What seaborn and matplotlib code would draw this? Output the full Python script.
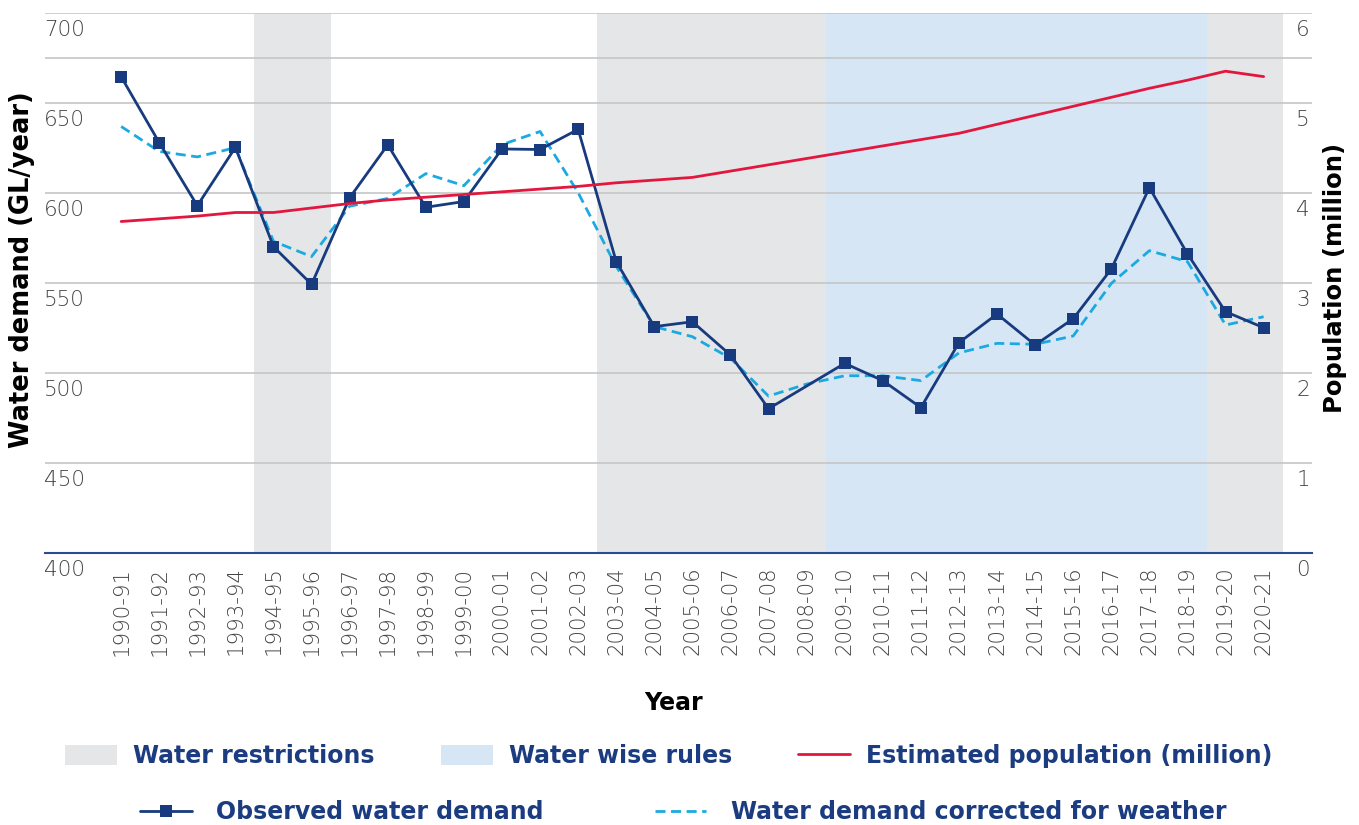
import numpy as np
import pandas as pd
import matplotlib
matplotlib.use("Agg")
import matplotlib.pyplot as plt
import matplotlib.transforms as mtransforms
from matplotlib.patches import Patch
from matplotlib.lines import Line2D
import seaborn as sns

# ---------------- data ----------------
years = ["1990-91", "1991-92", "1992-93", "1993-94", "1994-95", "1995-96", "1996-97",
         "1997-98", "1998-99", "1999-00", "2000-01", "2001-02", "2002-03", "2003-04",
         "2004-05", "2005-06", "2006-07", "2007-08", "2008-09", "2009-10", "2010-11",
         "2011-12", "2012-13", "2013-14", "2014-15", "2015-16", "2016-17", "2017-18",
         "2018-19", "2019-20", "2020-21"]

observed = [664.4, 627.8, 592.8, 625.2, 570.0, 549.1, 597.2, 626.6, 591.9, 595.1,
            624.3, 624.0, 635.2, 561.7, 525.6, 528.3, 509.8, 480.0, None, 505.2,
            495.6, 480.6, 516.7, 532.6, 515.4, 530.0, 557.6, 602.8, 566.0, 533.9, 525.0]

corrected = [636.8, 622.9, 619.9, 625.0, 573.0, 564.5, 592.5, 596.8, 610.6, 603.9,
             626.7, 634.0, 600.0, 559.0, 525.6, 520.0, 508.0, 487.0, 493.7, 498.3,
             498.3, 495.6, 511.0, 516.3, 515.8, 520.4, 549.6, 567.8, 561.7, 526.5, 531.1]

population = [3.68, 3.71, 3.74, 3.78, 3.78, 3.83, 3.88, 3.92, 3.95, 3.98, 4.01, 4.04,
              4.07, 4.11, 4.14, 4.17, 4.24, 4.31, 4.38, 4.45, 4.52, 4.59, 4.66, 4.76,
              4.86, 4.96, 5.06, 5.16, 5.25, 5.35, 5.29]

restriction_periods = [("1994-95", "1995-96"), ("2003-04", "2008-09"), ("2019-20", "2020-21")]
waterwise_periods = [("2009-10", "2018-19")]

left_ticks = [400, 450, 500, 550, 600, 650, 700]
right_ticks = [0, 1, 2, 3, 4, 5, 6]

# ---------------- style ----------------
sns.set_theme(style="white")
plt.rcParams["font.family"] = ["DejaVu Sans"]

NAVY = "#173B7E"
LIGHTBLUE = "#1BA9E1"
RED = "#E3173E"
GREYSHADE = "#E5E6E8"
BLUESHADE = "#D6E6F5"
GRID = "#C6C6C6"
TICKCOL = "#444444"
LEGCOL = "#1B3C80"

fig = plt.figure(figsize=(13.59, 8.25), dpi=100)
ax = fig.add_axes([45 / 1359, 1 - 552.7 / 825, (1312 - 45) / 1359, 540 / 825])

idx = np.arange(len(years))
df = pd.DataFrame({"pos": idx, "year": years, "observed": observed,
                   "corrected": corrected, "population": population})
pos_of = {y: i for i, y in enumerate(years)}

# shaded periods
for a, b in restriction_periods:
    ax.axvspan(pos_of[a] - 0.5, pos_of[b] + 0.5, color=GREYSHADE, lw=0, zorder=0)
for a, b in waterwise_periods:
    ax.axvspan(pos_of[a] - 0.5, pos_of[b] + 0.5, color=BLUESHADE, lw=0, zorder=0)

ax.set_xlim(-2.0, 31.27)
ax.set_ylim(400, 700)

# grid
ax.set_yticks(left_ticks)
ax.set_axisbelow(True)
ax.yaxis.grid(True, color=GRID, lw=1.2, zorder=0.5)
ax.xaxis.grid(False)
ax.axhline(675, color=GRID, lw=1.2, zorder=0.5)

# lines
obs_df = df.dropna(subset=["observed"])
sns.lineplot(data=obs_df, x="pos", y="observed", ax=ax, color=NAVY, lw=2.0,
             marker="s", markersize=8.5, markeredgewidth=0, zorder=4)
sns.lineplot(data=df, x="pos", y="corrected", ax=ax, color=LIGHTBLUE, lw=2.0,
             linestyle=(0, (3.6, 2.0)), zorder=3)

ax2 = ax.twinx()
ax2.set_ylim(0, 6)
ax2.set_xlim(-2.0, 31.27)
sns.lineplot(data=df, x="pos", y="population", ax=ax2, color=RED, lw=2.0, zorder=2)

# axes cosmetics
for s in ["top", "left", "right"]:
    ax.spines[s].set_visible(False)
    ax2.spines[s].set_visible(False)
ax2.spines["bottom"].set_visible(False)
ax.spines["bottom"].set_color("#2C4C92")
ax.spines["bottom"].set_linewidth(1.5)

ax.set_xticks(idx)
ax.set_xticklabels(years, rotation=90, fontsize=15.3, color=TICKCOL, fontweight="light")
ax.set_xticks(np.arange(-0.5, len(years), 1.0), minor=True)
ax.tick_params(axis="x", which="major", length=0, pad=10)
ax.tick_params(axis="x", which="minor", length=7, width=1.5, color="#2C4C92", direction="out")
ax.tick_params(axis="y", length=0, labelleft=False)
ax2.tick_params(axis="y", length=0, labelright=False)
ax2.set_yticks(right_ticks)
ax2.grid(False)

ax.set_xlabel("")
ax.set_ylabel("")
ax2.set_ylabel("")

# y tick labels placed below gridlines
off_l = mtransforms.ScaledTranslation(-1 / 100, -17 / 100, fig.dpi_scale_trans)
tl = mtransforms.blended_transform_factory(ax.transAxes, ax.transData) + off_l
for v in left_ticks:
    ax.text(0, v, f"{v}", transform=tl, ha="left", va="center", fontsize=15.5,
            color=TICKCOL, fontweight="light")
off_r = mtransforms.ScaledTranslation(-2 / 100, -17 / 100, fig.dpi_scale_trans)
tr = mtransforms.blended_transform_factory(ax2.transAxes, ax2.transData) + off_r
for v in right_ticks:
    ax2.text(1, v, f"{v}", transform=tr, ha="right", va="center", fontsize=15.5,
             color=TICKCOL, fontweight="light")

# axis titles
fig.text(22 / 1359, 1 - 270 / 825, "Water demand (GL/year)", rotation=90, ha="center",
         va="center", fontsize=18.5, fontweight="bold", color="black")
fig.text(1335 / 1359, 1 - 278 / 825, "Population (million)", rotation=90, ha="center",
         va="center", fontsize=17.5, fontweight="bold", color="black")
fig.text(674 / 1359, 1 - 703 / 825, "Year", ha="center", va="center", fontsize=17,
         fontweight="bold", color="black")

# legends
LEGSIZE = 17
h1 = [Patch(facecolor=GREYSHADE, edgecolor="none"),
      Patch(facecolor=BLUESHADE, edgecolor="none"),
      Line2D([], [], color=RED, lw=2.0)]
l1 = ["Water restrictions", "Water wise rules", "Estimated population (million)"]
leg1 = fig.legend(h1, l1, loc="center left", bbox_to_anchor=(65 / 1359, 1 - 756 / 825),
                  ncol=3, frameon=False, borderpad=0, borderaxespad=0,
                  handlelength=2.2, handleheight=0.95, handletextpad=0.68,
                  columnspacing=2.8, prop={"size": LEGSIZE, "weight": "bold"})
for t in leg1.get_texts():
    t.set_color(LEGCOL)

h2 = [Line2D([], [], color=NAVY, lw=2.0, marker="s", markersize=8.5, markeredgewidth=0),
      Line2D([], [], color=LIGHTBLUE, lw=2.0, linestyle=(0, (3.6, 2.0)))]
l2 = ["Observed water demand", "Water demand corrected for weather"]
leg2 = fig.legend(h2, l2, loc="center left", bbox_to_anchor=(140 / 1359, 1 - 812 / 825),
                  ncol=2, frameon=False, borderpad=0, borderaxespad=0,
                  handlelength=2.2, handletextpad=1.02, columnspacing=4.7,
                  prop={"size": LEGSIZE, "weight": "bold"})
for t in leg2.get_texts():
    t.set_color(LEGCOL)

fig.savefig("out.png", dpi=100)
